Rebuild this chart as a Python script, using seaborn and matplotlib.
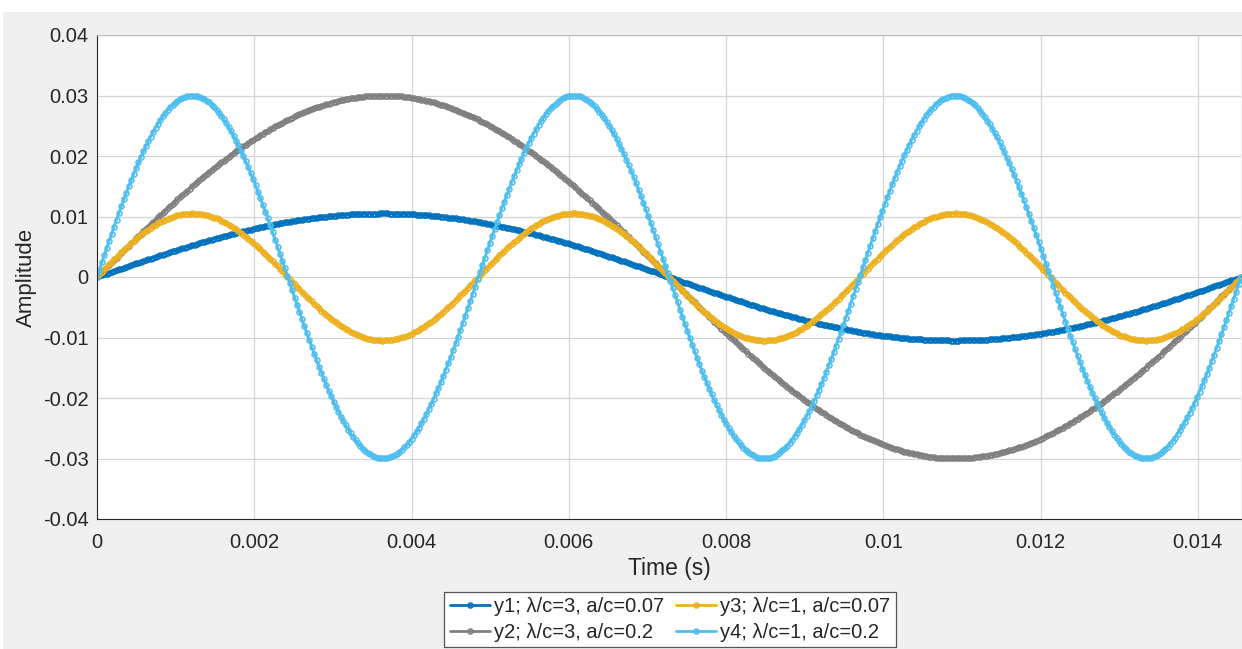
import numpy as np
import pandas as pd
import matplotlib
matplotlib.use("Agg")
import matplotlib.pyplot as plt
from matplotlib.patches import Rectangle
import seaborn as sns

# Wave parameters for each series
series_names = ["y1; λ/c=3, a/c=0.07", "y2; λ/c=3, a/c=0.2",
                "y3; λ/c=1, a/c=0.07", "y4; λ/c=1, a/c=0.2"]
lambda_over_c = [3, 3, 1, 1]
a_over_c = [0.07, 0.2, 0.07, 0.2]
amplitudes = [0.0105, 0.03, 0.0105, 0.03]
base_period = 0.01455 / 3          # period (s) for λ/c = 1
n_samples = 470
t_end = 0.01455

series_colors = ["#0072BD", "#808080", "#EDB120", "#4DBEEE"]

y_ticks = [-0.04, -0.03, -0.02, -0.01, 0, 0.01, 0.02, 0.03, 0.04]
y_tick_labels = ["-0.04", "-0.03", "-0.02", "-0.01", "0", "0.01", "0.02", "0.03", "0.04"]
x_ticks = [0, 0.002, 0.004, 0.006, 0.008, 0.01, 0.012, 0.014]
x_tick_labels = ["0", "0.002", "0.004", "0.006", "0.008", "0.01", "0.012", "0.014"]

t = np.linspace(0, t_end, n_samples)
frames = []
for name, lc, amp in zip(series_names, lambda_over_c, amplitudes):
    frames.append(pd.DataFrame({
        "time": t,
        "amp": amp * np.sin(2 * np.pi * t / (lc * base_period)),
        "series": name,
    }))
df = pd.concat(frames, ignore_index=True)

sns.set_theme(style="white")
plt.rcParams["font.family"] = ["Liberation Sans", "DejaVu Sans"]
plt.rcParams["axes.unicode_minus"] = False

fig = plt.figure(figsize=(12.42, 6.49), dpi=100, facecolor="white")
fig.patches.append(Rectangle((3 / 1242, 0), 1, 1 - 12 / 649, transform=fig.transFigure,
                             facecolor="#f0f0f0", edgecolor="none", zorder=-10))
ax = fig.add_axes([97 / 1242, 1 - 519 / 649, (1241 - 97) / 1242, (519 - 35) / 649])
ax.set_facecolor("white")

for name, color in zip(series_names, series_colors):
    sns.lineplot(data=df[df["series"] == name], x="time", y="amp", ax=ax,
                 color=color, linewidth=2.4, marker="o", markersize=4.2,
                 markerfacecolor="none", markeredgecolor=color,
                 markeredgewidth=1.1, label=name, sort=False, estimator=None)

ax.set_xlim(0, t_end)
ax.set_ylim(-0.04, 0.04)
ax.set_xticks(x_ticks)
ax.set_xticklabels(x_tick_labels)
ax.set_yticks(y_ticks)
ax.set_yticklabels(y_tick_labels)
ax.grid(True, color="#d4d4d4", linewidth=0.9)
ax.set_axisbelow(True)
ax.tick_params(direction="in", length=4, width=0.8, color="#262626",
               labelsize=14.5, labelcolor="#262626")
ax.tick_params(axis="x", pad=10)
ax.tick_params(axis="y", pad=6)

for side in ["left", "bottom"]:
    ax.spines[side].set_color("#262626")
    ax.spines[side].set_linewidth(0.8)
ax.spines["top"].set_color("#bdbdbd")
ax.spines["top"].set_linewidth(0.8)
ax.spines["right"].set_visible(False)

ax.set_xlabel("Time (s)", fontsize=16.5, color="#262626", labelpad=4)
ax.set_ylabel("Amplitude", fontsize=16, color="#262626", labelpad=4)

handles, labels = ax.get_legend_handles_labels()
for h in handles:
    h.set_markersize(3.6)
    h.set_linewidth(2.0)
leg = ax.legend(handles, labels, ncol=2, loc="upper center",
                bbox_to_anchor=(670 / 1242, 1 - 592 / 649), bbox_transform=fig.transFigure,
                fontsize=14.5, frameon=True, fancybox=False, edgecolor="#555555",
                facecolor="white", framealpha=1, handlelength=2.0, handletextpad=0.2,
                columnspacing=0.6, labelspacing=0.35, borderpad=0.25, borderaxespad=0,
                numpoints=1)
leg.get_frame().set_linewidth(0.9)

fig.savefig("out.png", dpi=100, facecolor=fig.get_facecolor())
